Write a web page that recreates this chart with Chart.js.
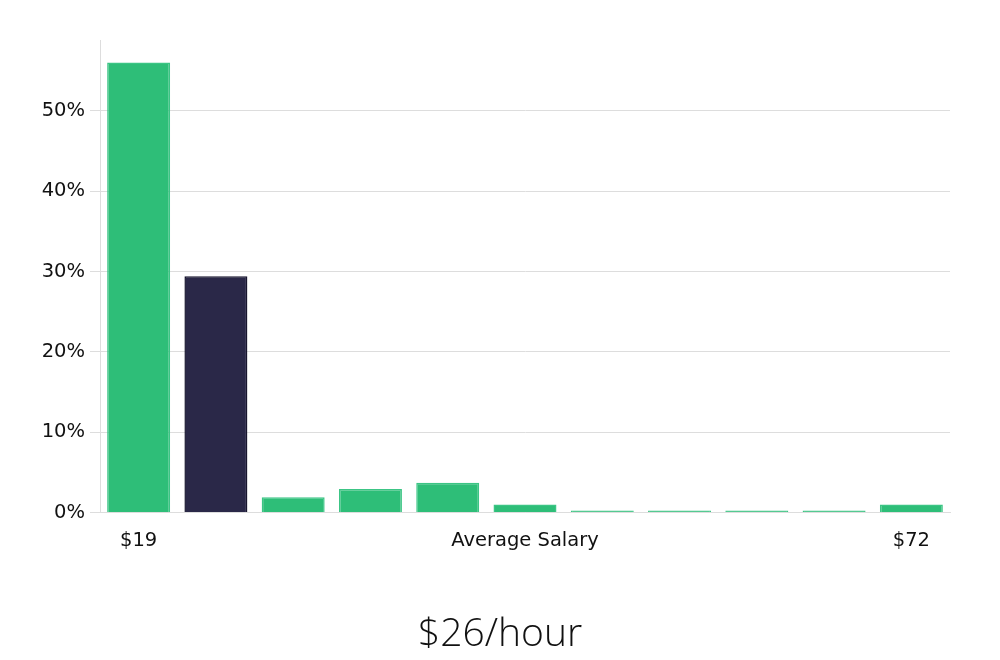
<!DOCTYPE html>
<html>
<head>
<meta charset="utf-8">
<script src="https://cdn.jsdelivr.net/npm/chart.js@4/dist/chart.umd.min.js"></script>
<style>
html,body{margin:0;padding:0;background:#fff;}
#wrap{width:1000px;height:660px;}
</style>
</head>
<body>
<div id="wrap"><canvas id="c" width="1000" height="660"></canvas></div>
<script>
const categories = ["$19","","","","","Average Salary","","","","","$72"];
const shares = [56.0, 29.4, 1.9, 2.95, 3.7, 1.0, 0.25, 0.25, 0.25, 0.25, 1.0];
const highlightIndex = 1;
const yTicks = [0, 10, 20, 30, 40, 50];
const titleText = "$26/hour";

const green = "#2ebe78";
const greenBorder = "#3cc585";
const navy = "#2a2848";
const navyBorder = "#17152e";

const bottomTitle = {
  id: 'bottomTitle',
  afterDraw(chart) {
    const ctx = chart.ctx;
    ctx.save();
    ctx.fillStyle = '#111';
    ctx.font = "300 39px 'Open Sans'";
    ctx.textAlign = 'center';
    ctx.textBaseline = 'middle';
    ctx.fillText(titleText, chart.width / 2, 635);
    ctx.restore();
  }
};

new Chart(document.getElementById('c'), {
  type: 'bar',
  data: {
    labels: categories,
    datasets: [{
      data: shares,
      backgroundColor: shares.map((v,i)=> i===highlightIndex ? navy : green),
      borderColor: shares.map((v,i)=> i===highlightIndex ? navyBorder : greenBorder),
      borderWidth: 1.5,
      barPercentage: 0.815,
      categoryPercentage: 1.0
    }]
  },
  plugins: [bottomTitle],
  options: {
    responsive: false,
    animation: false,
    layout: { padding: { top: 40, right: 50, left: 0, bottom: 90 } },
    plugins: {
      legend: { display: false },
      tooltip: { enabled: false },
      title: { display: false }
    },
    scales: {
      x: {
        grid: { display: false, drawTicks: false },
        border: { display: true, color: '#dddddd' },
        ticks: {
          color: '#111',
          font: { family: 'DejaVu Sans', size: 19.5 },
          autoSkip: false,
          maxRotation: 0,
          padding: 17
        }
      },
      y: {
        min: 0,
        max: 58.8,
        afterFit: (s) => { s.width = 100; },
        afterBuildTicks: (s) => { s.ticks = yTicks.map(v => ({ value: v })); },
        grid: { color: '#dddddd', tickLength: 10, tickColor: '#dddddd' },
        border: { display: true, color: '#dddddd' },
        ticks: {
          color: '#111',
          font: { family: 'DejaVu Sans', size: 19.5 },
          padding: 5,
          callback: (v) => v + '%'
        }
      }
    }
  }
});
</script>
</body>
</html>
